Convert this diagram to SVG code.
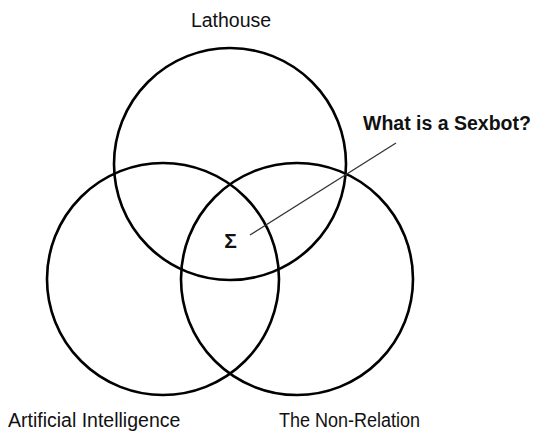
<svg xmlns="http://www.w3.org/2000/svg" width="535" height="432" viewBox="0 0 535 432">
<style>
.c{fill:none;stroke:#000;stroke-width:2.6}
.t{font-family:"Liberation Sans",Arial,sans-serif;font-size:19.5px;fill:#111}
.b{font-weight:bold}
.l{stroke:#333;stroke-width:1.3}
</style>
<rect width="535" height="432" fill="#fff"/>
<g id="lathouse"><circle class="c" cx="230" cy="164" r="116"/><text class="t" x="231" y="27" text-anchor="middle">Lathouse</text></g>
<g id="ai"><circle class="c" cx="163" cy="279" r="116"/><text class="t" x="8" y="427">Artificial Intelligence</text></g>
<g id="nonrelation"><circle class="c" cx="297" cy="279" r="116"/><text class="t" x="279" y="427" textLength="141" lengthAdjust="spacingAndGlyphs">The Non-Relation</text></g>
<g id="sigma"><text class="t b" x="230.5" y="248" text-anchor="middle" style="font-size:21px">Σ</text></g>
<g id="question"><text class="t b" x="363" y="130">What is a Sexbot?</text></g>
<g id="connectors"><line class="l" x1="396" y1="143" x2="250" y2="235"/></g>
</svg>
